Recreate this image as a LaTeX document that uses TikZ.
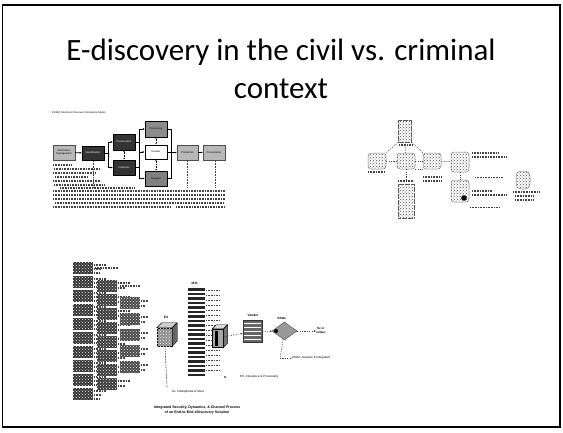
\documentclass[tikz,border=0pt]{standalone}
\usepackage{fontspec}
\setmainfont{Carlito}
\newfontfamily\tinysans{Liberation Sans}
\usetikzlibrary{arrows.meta,shapes.geometric,patterns}
\begin{document}
\begin{tikzpicture}[x=1pt,y=-1pt,
  tinytext/.style={font=\tinysans\fontsize{2.6}{3}\selectfont, inner sep=0pt, align=center},
  boldtiny/.style={font=\tinysans\bfseries\fontsize{3.6}{4.4}\selectfont, inner sep=0pt, align=center},
  darkbox/.style={draw=black, line width=0.6pt, fill=black!80, text=white, minimum width=22pt, minimum height=15pt, inner sep=0pt, font=\tinysans\fontsize{2.6}{3}\selectfont, align=center},
  lightbox/.style={draw=black!70, line width=0.4pt, fill=black!28, text=black, minimum width=22pt, minimum height=15pt, inner sep=0pt, font=\tinysans\fontsize{2.6}{3}\selectfont, align=center},
  openbox/.style={draw=black, line width=1pt, fill=white, text=black, minimum width=22pt, minimum height=14pt, inner sep=0pt, font=\tinysans\fontsize{2.6}{3}\selectfont, align=center},
  flow/.style={draw=black, line width=0.6pt, -{Latex[length=2pt,width=2pt]}},
  link/.style={draw=black, line width=0.6pt},
  textdots/.style={draw=black!75, line width=1.1pt, dash pattern=on 0.9pt off 0.7pt},
  icon/.style={draw=black!65, line width=0.5pt, dash pattern=on 0.7pt off 0.5pt, pattern=crosshatch dots, pattern color=black!70, inner sep=0pt},
  dashlink/.style={draw=black!75, line width=0.5pt, dash pattern=on 1.2pt off 1.2pt},
]
\useasboundingbox (0,0) rectangle (563,432);
% slide frame
\draw[line width=1.3pt] (2.5,5) rectangle (560,427);

% title
\node[font=\fontsize{31}{38}\selectfont, align=center, inner sep=0pt] (title) at (281,69)
  {E-discovery in the civil vs. criminal\\context};

% ================= EDRM diagram =================
\node[tinytext, anchor=west] (cap1) at (52,113) {EDRM: Electronic Discovery Reference Model};
\node[lightbox] (im) at (64,152.5) {Information\\Management};
\node[darkbox, minimum height=14pt] (id) at (93,153) {Identification};
\node[darkbox, minimum height=16pt] (pres) at (124,142) {Preservation};
\node[darkbox] (coll) at (124,167.5) {Collection};
\node[lightbox, draw=black, fill=black!45, minimum height=16pt] (proc) at (156,129) {Processing};
\node[openbox] (rev) at (156,152) {Review};
\node[lightbox, draw=black, fill=black!50] (ana) at (156,178.5) {Analysis};
\node[lightbox, minimum width=21pt] (prod) at (187.5,152.5) {Production};
\node[lightbox] (pres2) at (214,152.5) {Presentation};

\coordinate (j1) at (108,153);
\coordinate (bt) at (139,129);
\coordinate (bm) at (139,152);
\coordinate (bb) at (139,178.5);
\coordinate (rt) at (171,129);
\coordinate (rm) at (171,152.5);
\coordinate (rb) at (171,178.5);
\draw[flow] (im) -- (id);
\draw[link] (id) -- (j1);
\draw[flow] (j1) |- (pres);
\draw[flow] (j1) |- (coll);
\draw[link] (pres) -- (pres -| bt);
\draw[link] (coll) -- (coll -| bt);
\draw[link] (bt) -- (bb);
\draw[flow] (bt) -- (proc);
\draw[flow] (bm) -- (rev);
\draw[flow] (bb) -- (ana);
\draw[link] (proc) -- (rt);
\draw[link] (rev) -- (rev -| rt);
\draw[link] (ana) -- (rb);
\draw[link] (rt) -- (rb);
\draw[flow] (rm) -- (prod);
\draw[flow] (prod) -- (pres2);
\draw[link, densely dotted, {Latex[length=1.5pt]}-{Latex[length=1.5pt]}] (pres) -- (coll);
\draw[link, densely dotted, {Latex[length=1.5pt]}-{Latex[length=1.5pt]}] (proc) -- (rev);
\draw[link, densely dotted, {Latex[length=1.5pt]}-{Latex[length=1.5pt]}] (rev) -- (ana);
% text under EDRM (illegible rows)
\foreach \yy/\xa/\xb in {165/53/72,169/54/100,173/53/96,177/55/88,181/53/101,185/54/104,188/60/134}
  \draw[textdots] (\xa,\yy) -- (\xb,\yy);
\foreach \xx in {93,187,215}
  \draw[textdots, line width=0.6pt] (\xx,161) -- (\xx,188);
\foreach \yy/\xa/\xb in {191/53/225,195/53/225,199/53/225,203/55/224,207/53/170}
  \draw[textdots] (\xa,\yy) -- (\xb,\yy);
\draw[textdots] (176,207) -- (225,207);

% ================= right diagram =================
\node[icon, minimum width=13pt, minimum height=22pt] (rtop) at (405,131) {};
\node[icon, minimum width=18pt, minimum height=16pt, rounded corners=3pt] (rl) at (377,161) {};
\node[icon, minimum width=18pt, minimum height=16pt, rounded corners=3pt] (rmid) at (406,161) {};
\node[icon, minimum width=18pt, minimum height=16pt, rounded corners=3pt] (rr) at (432,161) {};
\node[icon, minimum width=16pt, minimum height=34pt] (rbot) at (406,201) {};
\draw[dashlink] (rtop.south west) -- (rl.north east);
\draw[dashlink] (rtop.south east) -- (rr.north west);
\draw[dashlink] (rtop) -- (rmid);
\draw[dashlink] (rl) -- (rmid);
\draw[dashlink] (rmid) -- (rr);
\draw[dashlink] (rmid.south east) -- (rr.south west);
\draw[dashlink] (rmid) -- (rbot);
\draw[textdots] (399,145) -- (413,145);
\draw[textdots] (368,172) -- (385,172);
\draw[textdots] (398,181) -- (414,181);
\draw[textdots] (423,177) -- (442,177);
\draw[textdots] (423,181) -- (441,181);
\node[icon, minimum width=18pt, minimum height=20pt, rounded corners=3pt] (g1) at (460,162) {};
\node[icon, minimum width=18pt, minimum height=22pt, rounded corners=3pt] (g2) at (460,191) {};
\fill[black] (464,198) circle (2.8);
\draw[dashlink] (rr) -- (g1);
\draw[dashlink] (g1) -- (g2);
\draw[textdots] (472,153) -- (498,153);
\draw[textdots] (472,157) -- (507,157);
\draw[textdots, line width=0.6pt] (475,177) -- (503,177);
\draw[textdots] (472,191) -- (492,191);
\draw[textdots] (472,195) -- (507,195);
\draw[textdots, line width=0.6pt] (470,207) -- (500,207);
\node[icon, minimum width=14pt, minimum height=18pt, rounded corners=5pt] (rp) at (523,180) {};
\draw[textdots] (513,192) -- (540,192);
\draw[textdots] (515,196) -- (533,196);
\draw[textdots] (515,200) -- (533,200);

% ================= bottom diagram =================
% document fan
\foreach \yy in {262,276,...,392}
  { \fill[black!80] (73,\yy) rectangle ++(20,12);
    \fill[pattern=crosshatch dots, pattern color=white] (73,\yy) rectangle ++(20,12);
    \draw[textdots] (94,\yy+3) -- (106,\yy+3);
    \draw[textdots] (94,\yy+7) -- (102,\yy+7);
    \draw[textdots] (94,\yy+11) -- (99,\yy+11); }
\foreach \yy in {280,294,...,380}
  { \fill[black!78] (97,\yy) rectangle ++(20,12);
    \fill[pattern=crosshatch dots, pattern color=white] (97,\yy) rectangle ++(20,12);
    \draw[textdots] (118,\yy+3) -- (130,\yy+3);
    \draw[textdots] (118,\yy+8) -- (125,\yy+8); }
\foreach \yy in {297,313,...,362}
  { \fill[black!72] (120,\yy) rectangle ++(20,12);
    \fill[pattern=crosshatch dots, pattern color=white] (120,\yy) rectangle ++(20,12);
    \draw[textdots] (141,\yy+4) -- (148,\yy+4);
    \draw[textdots] (141,\yy+9) -- (145,\yy+9); }
\draw[textdots] (95,268) -- (118,268);
\draw[textdots] (120,286) -- (140,286);

% ES cube
\node[tinytext, font=\tinysans\bfseries\fontsize{3.2}{4}\selectfont] (eslbl) at (166,317) {ES};
\node[draw=black, line width=0.5pt, fill=black!45, minimum width=15pt, minimum height=18pt, inner sep=0pt] (es) at (164.5,337) {};
\fill[pattern=crosshatch dots, pattern color=white] (es.south west) rectangle (es.north east);
\draw[fill=black!20] (es.north west) -- ++(5,-5) -- ++(15,0) -- (es.north east) -- cycle;
\draw[fill=black!60] (es.north east) -- ++(5,-5) -- ++(0,18) -- (es.south east) -- cycle;
\coordinate (esd) at (167,387);
\draw[textdots, line width=0.6pt] (es) -- (esd);
\node[tinytext, anchor=west, font=\tinysans\fontsize{3}{3.6}\selectfont] (esl) at (172,392) {Sx. Deduplicate \& Store};

% tall M.D. stack
\node[tinytext, font=\tinysans\bfseries\fontsize{3.2}{4}\selectfont] (mdlbl) at (195,283) {M.D.};
\node[minimum width=17pt, minimum height=90pt, inner sep=0pt] (md) at (196.5,333) {};
\foreach \yy in {288,292.5,...,376}
  \fill[black!85] (188,\yy) rectangle (205,\yy+2.8);
\foreach \yy in {290,295,...,372}
  \draw[textdots, line width=0.7pt] (206,\yy) -- (220,\yy);
% small device
\node[draw=black, line width=0.5pt, fill=black!35, minimum width=11pt, minimum height=18pt, inner sep=0pt] (dev) at (218,338) {};
\draw[fill=black!15] (dev.north west) -- ++(4,-4) -- ++(11,0) -- (dev.north east) -- cycle;
\draw[fill=black!55] (dev.north east) -- ++(4,-4) -- ++(0,18) -- (dev.south east) -- cycle;
\fill[black] (215,331) rectangle (218,346);
% vendor
\node[tinytext, font=\tinysans\bfseries\fontsize{3.2}{4}\selectfont] (vlbl) at (253,315) {Vendor};
\node[draw=black!80, fill=black!60, minimum width=19pt, minimum height=22pt, inner sep=0pt] (vend) at (252.5,331.5) {};
\foreach \yy in {323,327,...,340}
  \draw[white, line width=0.6pt] (244,\yy) -- (261,\yy);
\draw[dashlink, -{Latex[length=2pt,width=2pt]}] (dev) -- (vend);
% diamond
\node[tinytext, font=\tinysans\bfseries\fontsize{3}{4}\selectfont] (dlbl) at (282,318) {ESWL};
\node[diamond, draw=black!70, fill=black!40, minimum width=25pt, minimum height=18pt, inner sep=0pt] (dia) at (284.5,331) {};
\fill[black] (276,331) circle (2);
\draw[dashlink, -{Latex[length=2pt,width=2pt]}] (vend) -- (dia);
\node[tinytext, anchor=west, font=\tinysans\bfseries\fontsize{3}{3.6}\selectfont] (out) at (316,331) {Sx or\\output};
\draw[dashlink, -{Latex[length=2pt,width=2pt]}] (dia) -- (out);
\coordinate (dd) at (280,358);
\draw[dashlink] (dia) -- (dd);
\node[tinytext, anchor=west, font=\tinysans\fontsize{3}{3.6}\selectfont] (dial) at (292,358) {ESWL Analysis \& Integrated};
\draw[dashlink] (dd) -- (dial);
\fill[black] (225,377) circle (0.9);
\node[tinytext, anchor=west, font=\tinysans\fontsize{3}{3.6}\selectfont] (clr) at (240,377) {ES. Clearance \& Processing};
% caption
\node[boldtiny] (cap2) at (197,410) {Integrated Security, Dynamics, \& Channel Process\\of an End-to-End eDiscovery Solution};
\end{tikzpicture}
\end{document}
